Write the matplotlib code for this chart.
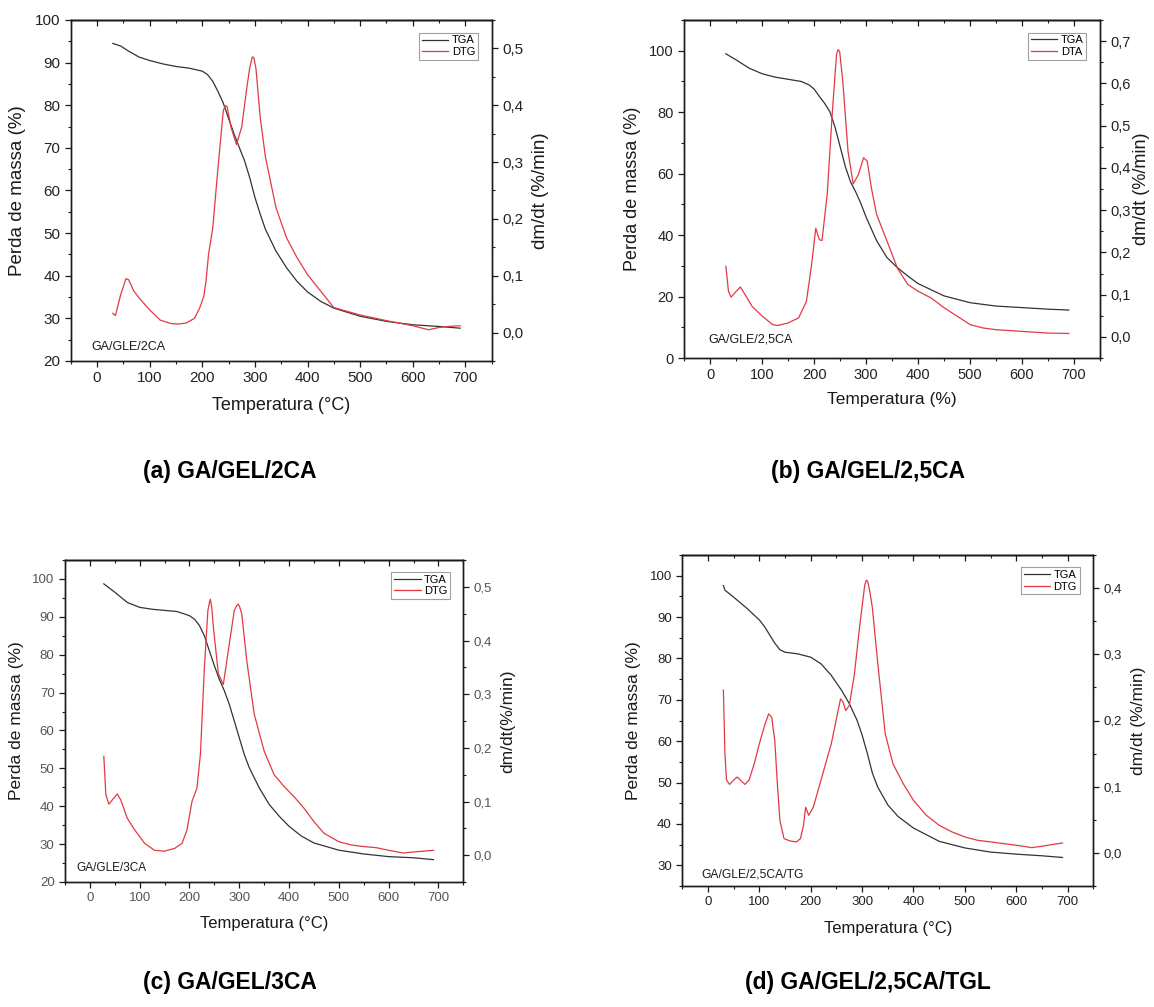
import matplotlib
matplotlib.use("Agg")
import matplotlib.pyplot as plt
from matplotlib.ticker import MultipleLocator, FuncFormatter

plt.rcParams['font.family'] = ['Liberation Sans', 'DejaVu Sans']

# ---------------- data ----------------
# Panel (a) GA/GEL/2CA
t_tga_a = [30, 45, 60, 80, 100, 125, 150, 175, 200, 210, 220, 230, 240, 250, 260, 270, 280, 290,
           300, 310, 320, 340, 360, 380, 400, 425, 450, 500, 550, 600, 650, 690]
tga_a = [94.5, 93.9, 92.7, 91.3, 90.5, 89.7, 89.1, 88.7, 88.0, 87.2, 85.6, 83.2, 80.5, 76.9, 73.4,
         70.2, 67.1, 63.1, 58.4, 54.5, 50.9, 45.8, 41.9, 38.7, 36.2, 34.0, 32.4, 30.5, 29.3, 28.5,
         28.1, 27.7]
t_dtg_a = [30, 35, 45, 55, 60, 70, 80, 100, 120, 140, 155, 170, 185, 195, 203, 207, 212, 220, 230,
           240, 244, 247, 250, 255, 265, 275, 285, 290, 295, 298, 302, 310, 320, 340, 360, 380, 400,
           425, 450, 500, 550, 600, 630, 650, 670, 690]
dtg_a = [0.034, 0.030, 0.067, 0.095, 0.093, 0.073, 0.061, 0.040, 0.022, 0.016, 0.015, 0.017, 0.025,
         0.043, 0.064, 0.090, 0.138, 0.185, 0.291, 0.391, 0.399, 0.398, 0.384, 0.360, 0.331, 0.362,
         0.433, 0.465, 0.485, 0.484, 0.465, 0.380, 0.309, 0.220, 0.167, 0.132, 0.102, 0.073, 0.044,
         0.031, 0.021, 0.012, 0.005, 0.009, 0.011, 0.012]

# Panel (b) GA/GEL/2,5CA
t_tga_b = [30, 50, 75, 100, 125, 150, 175, 190, 200, 210, 220, 230, 240, 250, 260, 270, 280, 290,
           300, 320, 340, 360, 380, 400, 450, 500, 550, 600, 650, 690]
tga_b = [99.0, 97.0, 94.3, 92.5, 91.4, 90.7, 90.0, 88.9, 87.5, 85.1, 82.9, 80.2, 75.2, 68.7, 62.2,
         57.3, 54.0, 50.2, 45.8, 38.2, 32.7, 29.4, 26.7, 24.2, 20.2, 18.0, 16.9, 16.4, 15.9, 15.6]
t_dta_b = [30, 35, 40, 50, 58, 65, 80, 100, 120, 130, 150, 170, 185, 195, 203, 210, 215, 225, 235,
           243, 246, 249, 252, 255, 265, 275, 285, 295, 302, 310, 320, 340, 360, 380, 400, 425, 450,
           475, 500, 525, 550, 600, 650, 690]
dta_b = [0.167, 0.108, 0.094, 0.108, 0.118, 0.104, 0.073, 0.049, 0.029, 0.027, 0.033, 0.045, 0.084,
         0.171, 0.257, 0.230, 0.228, 0.337, 0.534, 0.669, 0.680, 0.675, 0.640, 0.605, 0.440, 0.362,
         0.384, 0.424, 0.416, 0.353, 0.290, 0.227, 0.163, 0.124, 0.108, 0.092, 0.069, 0.049, 0.029,
         0.021, 0.017, 0.013, 0.009, 0.008]

# Panel (c) GA/GEL/3CA
t_tga_c = [28, 50, 75, 100, 125, 150, 175, 200, 210, 220, 230, 240, 250, 260, 270, 280, 290, 300,
           310, 320, 340, 360, 380, 400, 425, 450, 500, 550, 600, 650, 690]
tga_c = [98.7, 96.5, 93.8, 92.5, 92.0, 91.7, 91.4, 90.3, 89.4, 87.7, 85.0, 81.0, 77.1, 73.5, 70.5,
         66.9, 62.5, 58.1, 53.7, 50.2, 44.9, 40.5, 37.4, 34.7, 32.1, 30.3, 28.4, 27.4, 26.7, 26.4, 25.9]
t_dtg_c = [28, 32, 38, 45, 55, 62, 75, 90, 110, 130, 150, 170, 185, 195, 205, 215, 222, 230, 237,
           240, 242, 245, 248, 258, 268, 278, 290, 295, 298, 301, 305, 315, 330, 350, 370, 390, 410,
           430, 450, 470, 500, 525, 550, 575, 600, 630, 650, 670, 690]
dtg_c = [0.184, 0.113, 0.095, 0.103, 0.114, 0.103, 0.069, 0.047, 0.022, 0.009, 0.0075, 0.0125, 0.022,
         0.047, 0.100, 0.125, 0.188, 0.350, 0.456, 0.470, 0.477, 0.460, 0.425, 0.338, 0.318, 0.381,
         0.456, 0.465, 0.468, 0.462, 0.450, 0.363, 0.263, 0.194, 0.150, 0.128, 0.109, 0.0875, 0.0625,
         0.041, 0.025, 0.019, 0.016, 0.014, 0.009, 0.004, 0.006, 0.0075, 0.009]

# Panel (d) GA/GEL/2,5CA/TGL
t_tga_d = [30, 33, 50, 75, 100, 110, 120, 130, 140, 150, 175, 200, 220, 240, 260, 275, 290, 300,
           310, 320, 330, 350, 370, 400, 450, 500, 550, 600, 650, 690]
tga_d = [97.6, 96.5, 94.8, 92.2, 89.3, 87.7, 85.7, 83.7, 82.1, 81.5, 81.1, 80.3, 78.7, 75.9, 72.3,
         69.1, 65.1, 61.5, 57.1, 52.3, 49.0, 44.6, 41.8, 39.0, 35.8, 34.2, 33.2, 32.7, 32.3, 31.9]
t_dtg_d = [30, 33, 36, 42, 50, 57, 65, 72, 80, 90, 100, 110, 118, 124, 130, 135, 140, 148, 160, 172,
           180, 186, 190, 196, 205, 220, 240, 252, 258, 263, 268, 275, 285, 295, 305, 308, 311, 315,
           320, 330, 345, 360, 380, 400, 425, 450, 475, 500, 525, 550, 575, 600, 630, 650, 670, 690]
dtg_d = [0.246, 0.150, 0.110, 0.1035, 0.110, 0.1146, 0.1085, 0.1035, 0.110, 0.1347, 0.165, 0.192,
         0.210, 0.205, 0.170, 0.1045, 0.049, 0.0216, 0.018, 0.0166, 0.0216, 0.0417, 0.069, 0.0568,
         0.069, 0.110, 0.165, 0.210, 0.2327, 0.2276, 0.215, 0.2226, 0.270, 0.3407, 0.404, 0.412,
         0.410, 0.395, 0.370, 0.290, 0.180, 0.1347, 0.1045, 0.0794, 0.0568, 0.0417, 0.0317, 0.0241,
         0.019, 0.0166, 0.0141, 0.0116, 0.008, 0.010, 0.0126, 0.015]

sample_labels = ["GA/GLE/2CA", "GA/GLE/2,5CA", "GA/GLE/3CA", "GA/GLE/2,5CA/TG"]
captions = ["(a) GA/GEL/2CA", "(b) GA/GEL/2,5CA", "(c) GA/GEL/3CA", "(d) GA/GEL/2,5CA/TGL"]
xlabels = ["Temperatura (°C)", "Temperatura (%)", "Temperatura (°C)", "Temperatura (°C)"]
ylabel_left = "Perda de massa (%)"
ylabels_right = ["dm/dt (%/min)", "dm/dt (%/min)", "dm/dt(%/min)", "dm/dt (%/min)"]
legend_second = ["DTG", "DTA", "DTG", "DTG"]

# ---------------- layout / style ----------------
W, H = 1154, 1007
fig = plt.figure(figsize=(W / 100, H / 100), dpi=100)

panels = [
    dict(rect=(70.7, 20, 491.7, 361), ylim=(20, 100), yl_major=10, r_ylim=(-0.05, 0.55), r_max=0.5,
         tick_fs=11, lab_fs=13, samp=(-10, 23.4), samp_fs=9, tick_color='#222222', rpad=6, xpad=8,
         t1=t_tga_a, y1=tga_a, t2=t_dtg_a, y2=dtg_a),
    dict(rect=(684.3, 20, 1100, 358), ylim=(0, 110), yl_major=20, r_ylim=(-0.05, 0.75), r_max=0.7,
         tick_fs=10.5, lab_fs=12.5, samp=(-3, 6.0), samp_fs=9, tick_color='#222222', rpad=1.5, xpad=7,
         t1=t_tga_b, y1=tga_b, t2=t_dta_b, y2=dta_b),
    dict(rect=(65, 560, 463.3, 882), ylim=(20, 105), yl_major=10, r_ylim=(-0.05, 0.55), r_max=0.5,
         tick_fs=9.5, lab_fs=12, samp=(-27, 23.8), samp_fs=8.5, tick_color='#555555', rpad=6, xpad=8,
         t1=t_tga_c, y1=tga_c, t2=t_dtg_c, y2=dtg_c),
    dict(rect=(682.3, 555, 1093.3, 886), ylim=(25, 105), yl_major=10, r_ylim=(-0.05, 0.45), r_max=0.4,
         tick_fs=9.5, lab_fs=12, samp=(-13.6, 27.9), samp_fs=8.7, tick_color='#222222', rpad=6, xpad=9,
         t1=t_tga_d, y1=tga_d, t2=t_dtg_d, y2=dtg_d),
]

caption_pos = [(230, 471), (868, 471), (230, 983), (868, 983)]

TGA_COLOR = '#333333'
DTG_COLOR = '#e23a44'
SPINE_COLOR = '#1a1a1a'

comma = FuncFormatter(lambda v, p: f"{v:.1f}".replace('.', ','))

for i, p in enumerate(panels):
    x0, y0, x1, y1 = p['rect']
    ax = fig.add_axes([x0 / W, 1 - y1 / H, (x1 - x0) / W, (y1 - y0) / H])
    ax2 = ax.twinx()

    l1, = ax.plot(p['t1'], p['y1'], color=TGA_COLOR, lw=0.9, label="TGA")
    l2, = ax2.plot(p['t2'], p['y2'], color=DTG_COLOR, lw=0.9, label=legend_second[i])

    ax.set_xlim(-50, 750)
    ax.set_ylim(*p['ylim'])
    ax2.set_ylim(*p['r_ylim'])

    ax.set_xticks(list(range(0, 701, 100)))
    ax.xaxis.set_minor_locator(MultipleLocator(50))
    step = p['yl_major']
    lo = p['ylim'][0]
    first = lo if lo % step == 0 else lo + (step - lo % step)
    ax.set_yticks(list(range(int(first), 101, step)))
    ax.yaxis.set_minor_locator(MultipleLocator(step / 2))
    ax2.set_yticks([round(k * 0.1, 1) for k in range(0, int(round(p['r_max'] * 10)) + 1)])
    ax2.yaxis.set_minor_locator(MultipleLocator(0.05))
    ax2.yaxis.set_major_formatter(comma)

    for a in (ax, ax2):
        for s in a.spines.values():
            s.set_linewidth(1.0)
            s.set_color(SPINE_COLOR)
    ax.tick_params(axis='both', which='major', direction='out', length=4.5, width=0.9,
                   labelsize=p['tick_fs'], colors=SPINE_COLOR, labelcolor=p['tick_color'], pad=3)
    ax.tick_params(axis='both', which='minor', direction='out', length=2.5, width=0.8,
                   colors=SPINE_COLOR)
    ax.tick_params(axis='y', which='both', right=False)
    ax2.tick_params(axis='y', which='major', direction='out', length=4.5, width=0.9,
                    labelsize=p['tick_fs'], colors=SPINE_COLOR, labelcolor=p['tick_color'], pad=3)
    ax2.tick_params(axis='y', which='minor', direction='out', length=2.5, width=0.8,
                    colors=SPINE_COLOR)

    top = ax.secondary_xaxis('top')
    top.set_xticks(list(range(0, 701, 100)))
    top.xaxis.set_minor_locator(MultipleLocator(50))
    top.tick_params(axis='x', which='major', direction='in', length=4.5, width=0.9,
                    labeltop=False, colors=SPINE_COLOR)
    top.tick_params(axis='x', which='minor', direction='in', length=2.5, width=0.8,
                    colors=SPINE_COLOR)
    top.spines['top'].set_linewidth(1.0)

    ax.set_xlabel(xlabels[i], fontsize=p['lab_fs'], color='#1a1a1a', labelpad=p['xpad'])
    ax.set_ylabel(ylabel_left, fontsize=p['lab_fs'] + 0.5, color='#1a1a1a', labelpad=6)
    ax2.set_ylabel(ylabels_right[i], fontsize=p['lab_fs'] + 0.5, color='#1a1a1a',
                   labelpad=p['rpad'])

    ax.text(p['samp'][0], p['samp'][1], sample_labels[i], fontsize=p['samp_fs'],
            color='#1a1a1a', ha='left', va='center')

    leg = ax2.legend(handles=[l1, l2], loc='upper right', bbox_to_anchor=(0.967, 0.963),
                     fontsize=8, frameon=True, fancybox=False, handlelength=2.4,
                     handletextpad=0.3, borderpad=0.25, labelspacing=0.15, borderaxespad=0)
    leg.get_frame().set_edgecolor('#888888')
    leg.get_frame().set_linewidth(0.8)

    cx, cy = caption_pos[i]
    fig.text(cx / W, 1 - cy / H, captions[i], fontsize=16.5, fontweight='bold',
             ha='center', va='center', color='black')

fig.savefig("out.png", dpi=100, facecolor='white')
